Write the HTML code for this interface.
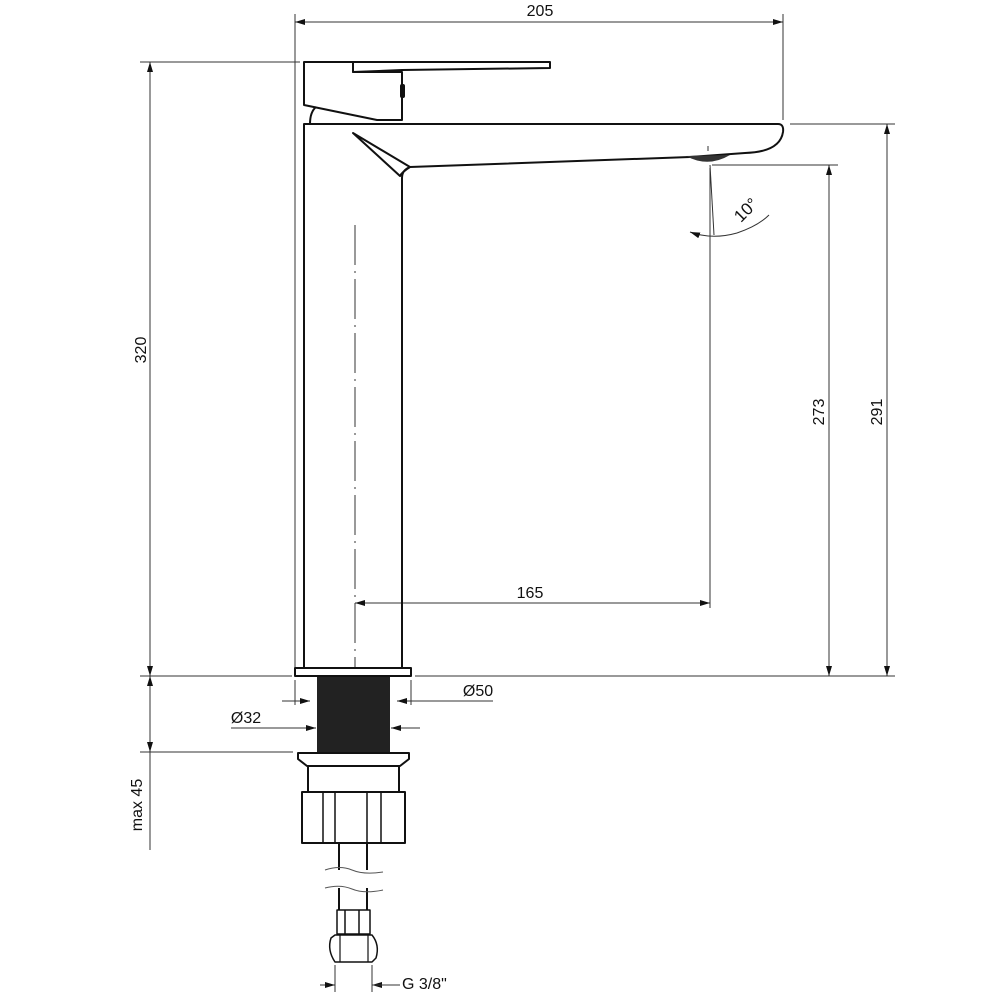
<!DOCTYPE html>
<html><head><style>body{margin:0;background:#fff}svg{display:block}text{font-family:"Liberation Sans Narrow","Liberation Sans",sans-serif;font-size:16px;fill:#111}</style></head><body>
<svg width="1000" height="1000" viewBox="0 0 1000 1000" xmlns="http://www.w3.org/2000/svg">
<defs>
<marker id="a" viewBox="0 0 10 6" refX="10" refY="3" markerWidth="10" markerHeight="6" orient="auto-start-reverse" markerUnits="userSpaceOnUse"><path d="M0,0L10,3L0,6z" fill="#111"/></marker>
</defs>
<g stroke="#333" stroke-width="1" fill="none">
<line x1="295" y1="14" x2="295" y2="672"/>
<line x1="783" y1="14" x2="783" y2="120"/>
<line x1="140" y1="62" x2="300" y2="62"/>
<line x1="790" y1="124" x2="895" y2="124"/>
<line x1="712" y1="165" x2="838" y2="165"/>
<line x1="140" y1="676" x2="292" y2="676"/>
<line x1="415" y1="676" x2="895" y2="676"/>
<line x1="140" y1="752" x2="293" y2="752"/>
<line x1="710" y1="168" x2="710" y2="608"/>
<line x1="295" y1="680" x2="295" y2="705"/>
<line x1="411" y1="680" x2="411" y2="705"/>
<line x1="335" y1="965" x2="335" y2="992"/>
<line x1="372" y1="965" x2="372" y2="992"/>
<line x1="295" y1="22" x2="783" y2="22" marker-start="url(#a)" marker-end="url(#a)"/>
<line x1="150" y1="62" x2="150" y2="676" marker-start="url(#a)" marker-end="url(#a)"/>
<line x1="150" y1="676" x2="150" y2="752" marker-start="url(#a)" marker-end="url(#a)"/>
<line x1="150" y1="752" x2="150" y2="850"/>
<line x1="829" y1="165" x2="829" y2="676" marker-start="url(#a)" marker-end="url(#a)"/>
<line x1="887" y1="124" x2="887" y2="676" marker-start="url(#a)" marker-end="url(#a)"/>
<line x1="355" y1="603" x2="710" y2="603" marker-start="url(#a)" marker-end="url(#a)"/>
<line x1="282" y1="701" x2="310" y2="701" marker-end="url(#a)"/>
<line x1="493" y1="701" x2="397" y2="701" marker-end="url(#a)"/>
<line x1="231" y1="728" x2="316" y2="728" marker-end="url(#a)"/>
<line x1="420" y1="728" x2="391" y2="728" marker-end="url(#a)"/>
<line x1="320" y1="985" x2="335" y2="985" marker-end="url(#a)"/>
<line x1="390" y1="985" x2="372" y2="985" marker-end="url(#a)"/>
<line x1="372" y1="985" x2="400" y2="985"/>
<line x1="710" y1="165" x2="714" y2="235"/>
<path d="M690 232 Q712 240 737 233" marker-start="url(#a)"/>
<path d="M737 233 Q758 226 769 215"/>
<line x1="355" y1="225" x2="355" y2="690" stroke-dasharray="40,6,2,6"/>
</g>
<g stroke="#111" stroke-width="2" fill="none" stroke-linejoin="round">
<path d="M353 62 L550 62 L550 68 L402 70 L353 72 Z" fill="#fff"/>
<path d="M304 62 L304 105 L377 120 L402 120 L402 72 L353 72 L353 62 Z"/>
<path d="M310 124 Q310 112 316 107"/>
<path d="M304 668 L304 124 L778 124 Q784 124 783 132 Q780 152 745 153 L690 157 L410 167 Q402 170 402 178 L402 668"/>
<path d="M353 133 L410 167 Q402 172 400 176 Z"/>
<rect x="295" y="668" width="116" height="8" fill="#fff"/>
<path d="M298 753 L409 753 L409 759 L400 766 L307 766 L298 759 Z"/>
<path d="M308 766 L308 792 M399 766 L399 792"/>
<rect x="302" y="792" width="103" height="51"/>
<path d="M323 792V843M335 792V843M367 792V843M381 792V843" stroke-width="1.5"/>
<path d="M339 843V870M367 843V870M339 888V910M367 888V910"/>
<path d="M325 870 Q340 865 352 870 T383 872M325 888 Q340 884 352 889 T383 890" stroke-width="1" stroke="#555"/>
<rect x="337" y="910" width="33" height="24" stroke-width="1.5"/>
<path d="M345 910V934M359 910V934" stroke-width="1.5"/>
<path d="M335 935 L372 935 Q380 945 376 958 L372 962 L335 962 Q327 950 331 938 Z" stroke-width="1.5"/>
<path d="M340 935V962M368 935V962" stroke-width="1.2"/>
</g>
<rect x="400" y="84" width="5" height="14" rx="2" fill="#111"/>
<rect x="317" y="677" width="73" height="75" fill="#222"/>
<path d="M686 156 Q708 168 730 155 Z" fill="#333"/>
<line x1="708" y1="146" x2="708" y2="151" stroke="#333"/>
<text x="540" y="16" text-anchor="middle">205</text>
<text x="530" y="598" text-anchor="middle">165</text>
<text x="478" y="696" text-anchor="middle">Ø50</text>
<text x="246" y="723" text-anchor="middle">Ø32</text>
<text x="402" y="989">G 3/8"</text>
<text transform="translate(146,350) rotate(-90)" text-anchor="middle">320</text>
<text transform="translate(824,412) rotate(-90)" text-anchor="middle">273</text>
<text transform="translate(882,412) rotate(-90)" text-anchor="middle">291</text>
<text transform="translate(142,805) rotate(-90)" text-anchor="middle">max 45</text>
<text transform="translate(750,214) rotate(-45)" text-anchor="middle" style="font-size:17px">10°</text>
</svg>
</body></html>
